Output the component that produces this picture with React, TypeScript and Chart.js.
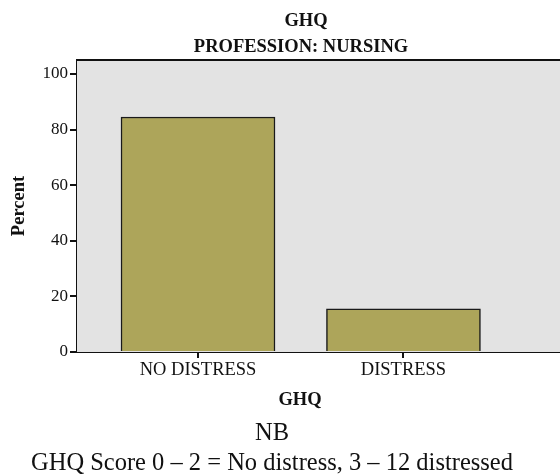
import React, { useEffect, useRef } from "react";
import { Chart, registerables } from "chart.js";

Chart.register(...registerables);

const categories = ["NO DISTRESS", "DISTRESS"];
const percents = [84.5, 15.5];
const yTicks = [0, 20, 40, 60, 80, 100];
const titleLines = ["GHQ", "PROFESSION: NURSING"];
const xAxisTitle = "GHQ";
const yAxisTitle = "Percent";
const noteLines = ["NB", "GHQ Score 0 \u2013 2 = No distress, 3 \u2013 12 distressed"];

const FONT = "'Liberation Serif', 'DejaVu Serif', serif";

const framePlugin = {
  id: "frame",
  beforeDatasetsDraw(chart: any) {
    const { ctx, chartArea } = chart;
    ctx.save();
    ctx.fillStyle = "#e3e3e3";
    ctx.fillRect(chartArea.left, chartArea.top, chartArea.right - chartArea.left, chartArea.bottom - chartArea.top);
    ctx.restore();
  },
  afterDraw(chart: any) {
    const { ctx, chartArea } = chart;
    ctx.save();
    ctx.strokeStyle = "#111";
    ctx.lineWidth = 2;
    ctx.beginPath();
    ctx.moveTo(chartArea.left, chartArea.top);
    ctx.lineTo(chartArea.right, chartArea.top);
    ctx.stroke();
    ctx.fillStyle = "#111";
    ctx.textAlign = "center";
    ctx.textBaseline = "alphabetic";
    ctx.font = `bold 18.5px ${FONT}`;
    ctx.fillText(titleLines[0], 306, 26);
    ctx.fillText(titleLines[1], 301, 52);
    ctx.fillText(xAxisTitle, 300, 405);
    ctx.font = `24.5px ${FONT}`;
    ctx.fillText(noteLines[0], 272, 440);
    ctx.fillText(noteLines[1], 272, 470);
    ctx.restore();
  },
};

export default function App() {
  const ref = useRef<HTMLCanvasElement | null>(null);
  useEffect(() => {
    document.body.style.margin = "0";
    const chart = new Chart(ref.current!, {
      type: "bar",
      data: {
        datasets: [
          {
            data: categories.map((c, i) => ({ x: i, y: percents[i] })),
            backgroundColor: "#ada55a",
            borderColor: "#1a1a1a",
            borderWidth: 1.5,
            barThickness: 154,
          } as any,
        ],
      },
      options: {
        animation: false,
        responsive: false,
        layout: { padding: { top: 60, left: 0, right: 0, bottom: 0 } },
        plugins: { legend: { display: false }, tooltip: { enabled: false }, title: { display: false } },
        scales: {
          x: {
            type: "linear",
            min: -0.589,
            max: 1.762,
            offset: false,
            afterBuildTicks: (s: any) => {
              s.ticks = categories.map((_, i) => ({ value: i }));
            },
            afterFit: (s: any) => {
              s.height = 475 - 352;
            },
            ticks: {
              callback: (v: any) => categories[v as number] ?? "",
              color: "#111",
              font: { family: FONT, size: 18.5 },
              padding: 1,
              maxRotation: 0,
              autoSkip: false,
            },
            grid: { display: true, offset: false, drawOnChartArea: false, drawTicks: true, tickLength: 6, color: "#111", lineWidth: 2 },
            border: { display: true, color: "#111", width: 2 },
          },
          y: {
            min: 0,
            max: 105,
            afterBuildTicks: (s: any) => {
              s.ticks = yTicks.map((v) => ({ value: v }));
            },
            afterFit: (s: any) => {
              s.width = 77;
            },
            ticks: {
              color: "#111",
              font: { family: FONT, size: 17 },
              padding: 2,
            },
            title: {
              display: true,
              text: yAxisTitle,
              color: "#111",
              font: { family: FONT, size: 18.5, weight: "bold" },
              padding: { top: 8, bottom: 0 },
            },
            grid: { display: true, drawOnChartArea: false, drawTicks: true, tickLength: 7, color: "#111", lineWidth: 2 },
            border: { display: true, color: "#111", width: 2 },
          },
        },
      },
      plugins: [framePlugin],
    });
    return () => chart.destroy();
  }, []);
  return <canvas ref={ref} width={560} height={475} style={{ display: "block" }} />;
}
